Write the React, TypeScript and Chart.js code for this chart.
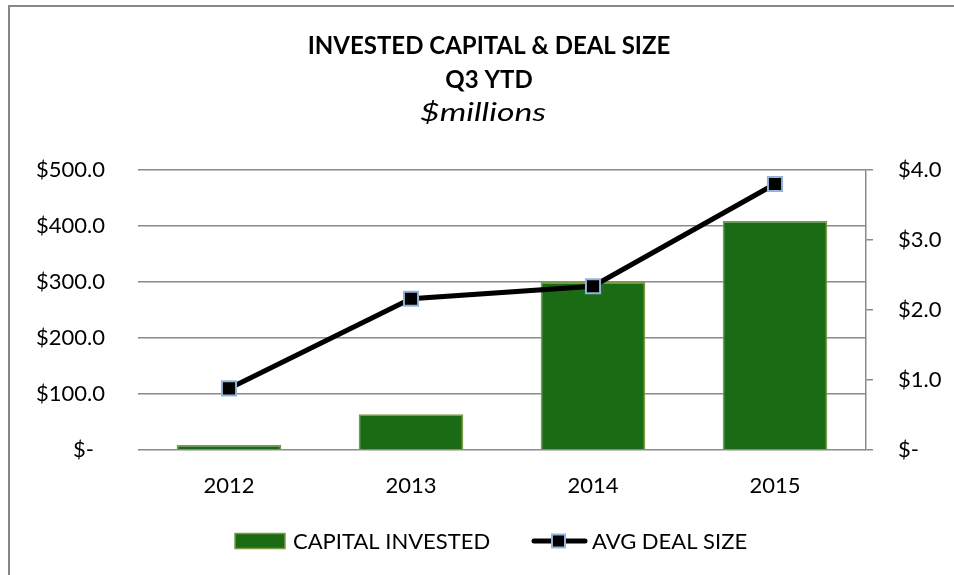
import React, { useEffect, useRef } from "react";
import { Chart, registerables } from "chart.js";

Chart.register(...registerables);

const categories = ["2012", "2013", "2014", "2015"];
const capitalInvested = [9, 64, 300, 409];
const avgDealSize = [0.88, 2.16, 2.34, 3.8];
const titleLines = ["INVESTED CAPITAL & DEAL SIZE", "Q3 YTD"];
const subtitleText = "$millions";
const seriesNames = ["CAPITAL INVESTED", "AVG DEAL SIZE"];

const FONT = "Lato, 'Open Sans', sans-serif";
const BAR_FILL = "#1a6b14";
const BAR_EDGE = "#7b9a45";
const MARKER_EDGE = "#95b3d7";
const GRID = "#8a8a8a";

const leftTick = (v: number) => (v === 0 ? "$-\u2002" : "$" + v.toFixed(1));
const rightTick = (v: number) => (v === 0 ? "$-" : "$" + v.toFixed(1));

const decorPlugin = {
  id: "decor",
  beforeDraw(chart: any) {
    const ctx = chart.ctx;
    ctx.save();
    ctx.fillStyle = "#fff";
    ctx.fillRect(0, 0, chart.width, chart.height);
    ctx.strokeStyle = "#878787";
    ctx.lineWidth = 2;
    ctx.beginPath();
    ctx.moveTo(9, chart.height);
    ctx.lineTo(9, 6);
    ctx.lineTo(chart.width, 6);
    ctx.stroke();
    ctx.restore();
  },
  afterDraw(chart: any) {
    const ctx = chart.ctx;
    const cx = 489;
    ctx.save();
    ctx.fillStyle = "#000";
    ctx.textAlign = "center";
    ctx.textBaseline = "middle";
    ctx.font = `bold 24px ${FONT}`;
    ctx.fillText(titleLines[0], cx, 46);
    ctx.fillText(titleLines[1], cx, 80);
    ctx.save();
    ctx.font = `italic 26px ${FONT}`;
    ctx.translate(483, 113);
    ctx.scale(1.3, 1);
    ctx.fillText(subtitleText, 0, 0);
    ctx.restore();

    // legend
    const ly = 541;
    ctx.font = `22px ${FONT}`;
    ctx.textAlign = "left";
    let x = 235;
    ctx.fillStyle = BAR_FILL;
    ctx.fillRect(x, ly - 7.5, 50, 15);
    ctx.strokeStyle = BAR_EDGE;
    ctx.lineWidth = 1.5;
    ctx.strokeRect(x, ly - 7.5, 50, 15);
    ctx.fillStyle = "#000";
    ctx.fillText(seriesNames[0], x + 58, ly + 1);
    x = 532;
    ctx.strokeStyle = "#000";
    ctx.lineWidth = 5;
    ctx.lineCap = "round";
    ctx.beginPath();
    ctx.moveTo(x + 2, ly);
    ctx.lineTo(x + 53, ly);
    ctx.stroke();
    ctx.fillStyle = "#000";
    ctx.fillRect(x + 20, ly - 6.5, 13, 13);
    ctx.strokeStyle = MARKER_EDGE;
    ctx.lineWidth = 2;
    ctx.strokeRect(x + 20, ly - 6.5, 13, 13);
    ctx.fillStyle = "#000";
    ctx.fillText(seriesNames[1], x + 60, ly + 1);
    ctx.restore();
  },
};

export default function App() {
  const ref = useRef<HTMLCanvasElement | null>(null);

  useEffect(() => {
    if (!ref.current) return;
    const chart = new Chart(ref.current, {
      type: "bar",
      data: {
        labels: categories,
        datasets: [
          {
            type: "line",
            label: seriesNames[1],
            data: avgDealSize,
            yAxisID: "y1",
            borderColor: "#000",
            borderWidth: 5,
            pointStyle: "rect",
            pointRadius: 10,
            pointHoverRadius: 10,
            pointBackgroundColor: "#000",
            pointBorderColor: MARKER_EDGE,
            pointBorderWidth: 2,
            tension: 0,
            order: 0,
          } as any,
          {
            type: "bar",
            label: seriesNames[0],
            data: capitalInvested,
            yAxisID: "y",
            backgroundColor: BAR_FILL,
            borderColor: BAR_EDGE,
            borderWidth: 1.5,
            barPercentage: 0.575,
            categoryPercentage: 1,
            order: 1,
          },
        ],
      },
      options: {
        responsive: false,
        animation: false,
        layout: { padding: { top: 170, left: 0, right: 0, bottom: 0 } },
        plugins: {
          legend: { display: false },
          title: { display: false },
          tooltip: { enabled: false },
        },
        scales: {
          x: {
            grid: { display: false },
            border: { display: false },
            ticks: {
              color: "#000",
              font: { family: FONT, size: 22 },
              padding: 15,
              maxRotation: 0,
            },
            afterFit(scale: any) {
              scale.height = 125;
            },
          },
          y: {
            position: "left",
            min: 0,
            max: 500,
            ticks: {
              stepSize: 100,
              color: "#000",
              font: { family: FONT, size: 22 },
              padding: 33,
              callback: (v: any) => leftTick(Number(v)),
            },
            grid: { color: GRID, lineWidth: 1.5, drawTicks: false },
            border: { display: false },
            afterFit(scale: any) {
              scale.width = 138;
            },
          },
          y1: {
            position: "right",
            min: 0,
            max: 4,
            ticks: {
              stepSize: 1,
              color: "#000",
              font: { family: FONT, size: 22 },
              padding: 25,
              callback: (v: any) => rightTick(Number(v)),
            },
            grid: {
              drawOnChartArea: false,
              drawTicks: true,
              tickLength: 7,
              color: GRID,
              lineWidth: 1.5,
            },
            border: { display: true, color: GRID, width: 1.5 },
            afterFit(scale: any) {
              scale.width = 88;
            },
          },
        },
      },
      plugins: [decorPlugin],
    });
    return () => chart.destroy();
  }, []);

  return (
    <div style={{ position: "absolute", left: 0, top: 0, width: 954, height: 575 }}>
      <canvas ref={ref} width={954} height={575} style={{ display: "block" }} />
    </div>
  );
}
